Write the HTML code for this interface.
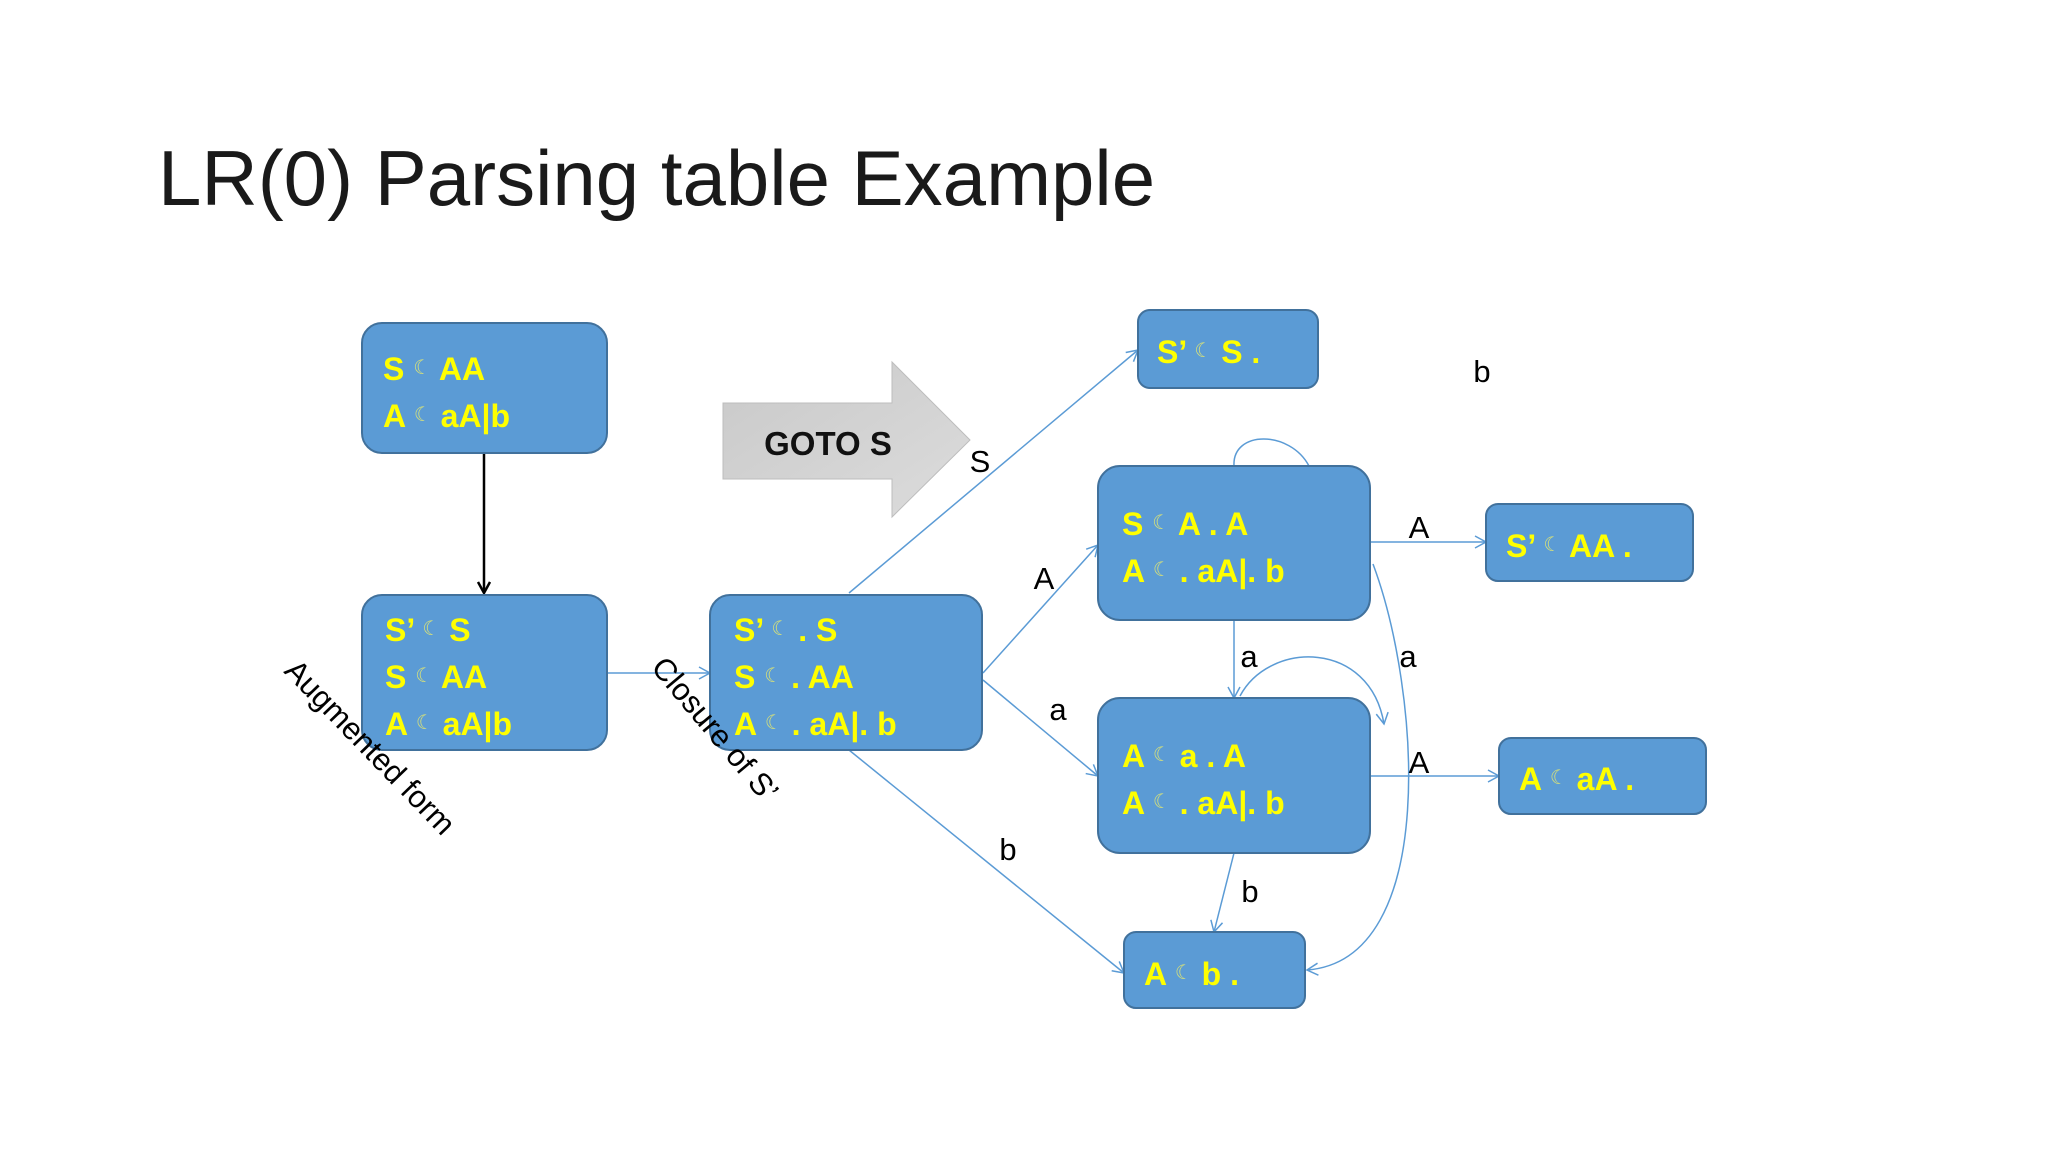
<!DOCTYPE html>
<html><head><meta charset="utf-8"><style>
html,body{margin:0;padding:0;background:#fff;}
svg{display:block;}
.t{font-family:"Liberation Sans","DejaVu Sans",sans-serif;}
.y{fill:#ffff00;font-weight:bold;font-size:32px;font-family:"Liberation Sans","DejaVu Sans",sans-serif;}
.m{fill:#d6e07a;font-size:20px;font-weight:normal;font-family:"DejaVu Sans",sans-serif;}
.l{fill:#000;font-size:31px;font-family:"Liberation Sans",sans-serif;}
.b{fill:#5b9bd5;stroke:#41719c;stroke-width:2;}
.c{fill:none;stroke:#5b9bd5;stroke-width:1.5;}
</style></head><body>
<svg width="2048" height="1152" viewBox="0 0 2048 1152" xmlns="http://www.w3.org/2000/svg">
<defs>
<marker id="ab" markerWidth="14" markerHeight="14" refX="12" refY="7" orient="auto" markerUnits="userSpaceOnUse"><path d="M1,1 L12,7 L1,13" fill="none" stroke="#5b9bd5" stroke-width="1.5"/></marker>
<marker id="ak" markerWidth="14" markerHeight="14" refX="12" refY="7" orient="auto" markerUnits="userSpaceOnUse"><path d="M1,1 L12,7 L1,13" fill="none" stroke="#000" stroke-width="2.5"/></marker>
<linearGradient id="g" x1="0" y1="0" x2="1" y2="1"><stop offset="0" stop-color="#c9c9c9"/><stop offset="1" stop-color="#dcdcdc"/></linearGradient>
</defs>
<text x="158" y="205" class="t" font-size="78" fill="#1a1a1a">LR(0) Parsing table Example</text>

<!-- GOTO arrow -->
<polygon points="723,403 892,403 892,362 970,440 892,517 892,479 723,479" fill="url(#g)" stroke="#bdbdbd" stroke-width="1"/>
<text x="828" y="455" class="t" font-size="33" font-weight="bold" text-anchor="middle" fill="#111">GOTO S</text>

<!-- connectors -->
<line x1="484" y1="453" x2="484" y2="593" stroke="#000" stroke-width="2.5" marker-end="url(#ak)"/>
<line x1="607" y1="673" x2="710" y2="673" class="c" marker-end="url(#ab)"/>
<line x1="849" y1="593" x2="1138" y2="350" class="c" marker-end="url(#ab)"/>
<line x1="983" y1="673" x2="1098" y2="545" class="c" marker-end="url(#ab)"/>
<line x1="983" y1="680" x2="1098" y2="776" class="c" marker-end="url(#ab)"/>
<line x1="849" y1="750" x2="1124" y2="973" class="c" marker-end="url(#ab)"/>
<line x1="1370" y1="542" x2="1486" y2="542" class="c" marker-end="url(#ab)"/>
<line x1="1370" y1="776" x2="1499" y2="776" class="c" marker-end="url(#ab)"/>
<line x1="1234" y1="620" x2="1234" y2="698" class="c" marker-end="url(#ab)"/>
<line x1="1234" y1="853" x2="1214" y2="932" class="c" marker-end="url(#ab)"/>
<path d="M1240,696 C1270,640 1370,640 1384,724" class="c" marker-end="url(#ab)"/>
<path d="M1234,466 C1232,430 1290,430 1309,466" class="c"/>
<path d="M1373,564 C1420,690 1440,960 1307,970" class="c" marker-end="url(#ab)"/>

<!-- boxes -->
<rect x="362" y="323" width="245" height="130" rx="20" class="b"/>
<rect x="362" y="595" width="245" height="155" rx="20" class="b"/>
<rect x="710" y="595" width="272" height="155" rx="20" class="b"/>
<rect x="1138" y="310" width="180" height="78" rx="12" class="b"/>
<rect x="1098" y="466" width="272" height="154" rx="22" class="b"/>
<rect x="1486" y="504" width="207" height="77" rx="12" class="b"/>
<rect x="1098" y="698" width="272" height="155" rx="22" class="b"/>
<rect x="1499" y="738" width="207" height="76" rx="12" class="b"/>
<rect x="1124" y="932" width="181" height="76" rx="12" class="b"/>

<!-- box text -->
<text x="383" y="380" class="y">S <tspan class="m" dy="-6">☾</tspan><tspan dy="6"> AA</tspan></text>
<text x="383" y="427" class="y">A <tspan class="m" dy="-6">☾</tspan><tspan dy="6">  aA|b</tspan></text>

<text x="385" y="641" class="y">S’ <tspan class="m" dy="-6">☾</tspan><tspan dy="6"> S</tspan></text>
<text x="385" y="688" class="y">S <tspan class="m" dy="-6">☾</tspan><tspan dy="6"> AA</tspan></text>
<text x="385" y="735" class="y">A <tspan class="m" dy="-6">☾</tspan><tspan dy="6">  aA|b</tspan></text>

<text x="734" y="641" class="y">S’ <tspan class="m" dy="-6">☾</tspan><tspan dy="6"> . S</tspan></text>
<text x="734" y="688" class="y">S <tspan class="m" dy="-6">☾</tspan><tspan dy="6"> . AA</tspan></text>
<text x="734" y="735" class="y">A <tspan class="m" dy="-6">☾</tspan><tspan dy="6">  . aA|. b</tspan></text>

<text x="1157" y="363" class="y">S’ <tspan class="m" dy="-6">☾</tspan><tspan dy="6"> S .</tspan></text>

<text x="1122" y="535" class="y">S <tspan class="m" dy="-6">☾</tspan><tspan dy="6"> A . A</tspan></text>
<text x="1122" y="582" class="y">A <tspan class="m" dy="-6">☾</tspan><tspan dy="6">  . aA|. b</tspan></text>

<text x="1506" y="557" class="y">S’ <tspan class="m" dy="-6">☾</tspan><tspan dy="6"> AA .</tspan></text>

<text x="1122" y="767" class="y">A <tspan class="m" dy="-6">☾</tspan><tspan dy="6"> a . A</tspan></text>
<text x="1122" y="814" class="y">A <tspan class="m" dy="-6">☾</tspan><tspan dy="6">  . aA|. b</tspan></text>

<text x="1519" y="790" class="y">A <tspan class="m" dy="-6">☾</tspan><tspan dy="6"> aA .</tspan></text>

<text x="1144" y="985" class="y">A <tspan class="m" dy="-6">☾</tspan><tspan dy="6"> b .</tspan></text>

<!-- labels -->
<text x="980" y="472" class="l" text-anchor="middle">S</text>
<text x="1044" y="589" class="l" text-anchor="middle">A</text>
<text x="1058" y="720" class="l" text-anchor="middle">a</text>
<text x="1008" y="860" class="l" text-anchor="middle">b</text>
<text x="1419" y="538" class="l" text-anchor="middle">A</text>
<text x="1419" y="773" class="l" text-anchor="middle">A</text>
<text x="1249" y="667" class="l" text-anchor="middle">a</text>
<text x="1408" y="667" class="l" text-anchor="middle">a</text>
<text x="1250" y="902" class="l" text-anchor="middle">b</text>
<text x="1482" y="382" class="l" text-anchor="middle">b</text>

<text x="0" y="0" class="l" font-size="33" transform="translate(283,672) rotate(46)">Augmented form</text>
<text x="0" y="0" class="l" font-size="33" transform="translate(650,668) rotate(50)">Closure of S’</text>
</svg>
</body></html>
